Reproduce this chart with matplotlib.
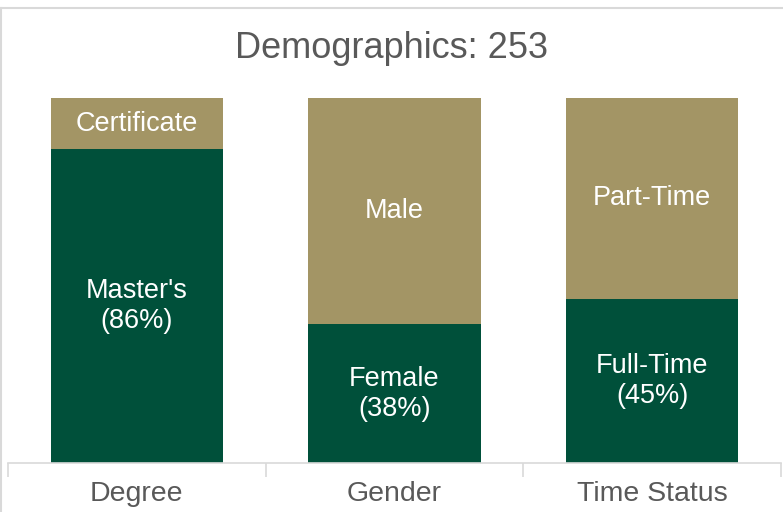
import matplotlib
matplotlib.use("Agg")
import matplotlib.pyplot as plt
from matplotlib.lines import Line2D

plt.rcParams['font.family'] = ['Liberation Sans', 'DejaVu Sans']

# data
categories = ['Degree', 'Gender', 'Time Status']
bottom_share = [86, 38, 45]
bottom_labels = ["Master's\n(86%)", "Female\n(38%)", "Full-Time\n(45%)"]
top_labels = ["Certificate", "Male", "Part-Time"]
title = 'Demographics: 253'

green = '#00503A'
gold = '#A39565'
grey_text = '#595959'
grey_line = '#D9D9D9'

fig = plt.figure(figsize=(7.83, 5.12), dpi=100)
ax = fig.add_axes([8 / 783, 49 / 512, 773 / 783, 365 / 512])

x = list(range(len(categories)))
top_share = [100 - v for v in bottom_share]
ax.bar(x, bottom_share, width=0.67, color=green)
ax.bar(x, top_share, width=0.67, bottom=bottom_share, color=gold)

# labels centered in each segment
for i in x:
    ax.text(i, bottom_share[i] / 2, bottom_labels[i], ha='center', va='center',
            color='white', fontsize=19.5, linespacing=1.2)
    ax.text(i, bottom_share[i] + top_share[i] / 2, top_labels[i], ha='center',
            va='center', color='white', fontsize=19.5)

ax.set_xlim(-0.5, 2.5)
ax.set_ylim(0, 100)
ax.set_yticks([])
ax.set_xticks(x)
ax.set_xticklabels(categories, fontsize=20.5, color=grey_text)
ax.set_xticks([-0.5, 0.5, 1.5, 2.5], minor=True)
ax.tick_params(axis='x', which='major', length=0, pad=13)
ax.tick_params(axis='x', which='minor', length=10, color=grey_line, width=1.2)
for side in ['top', 'left', 'right']:
    ax.spines[side].set_visible(False)
ax.spines['bottom'].set_color(grey_line)
ax.spines['bottom'].set_linewidth(1.2)

fig.text(0.5, 1 - 48 / 512, title, ha='center', va='center',
         fontsize=26, color=grey_text)

# outer frame (top and left edges)
fig.add_artist(Line2D([0, 1], [1 - 7.5 / 512, 1 - 7.5 / 512], color=grey_line, lw=1.5,
                      transform=fig.transFigure))
fig.add_artist(Line2D([1 / 783, 1 / 783], [0, 1 - 7.5 / 512], color=grey_line, lw=1.5,
                      transform=fig.transFigure))

fig.savefig('out.png', dpi=100)
